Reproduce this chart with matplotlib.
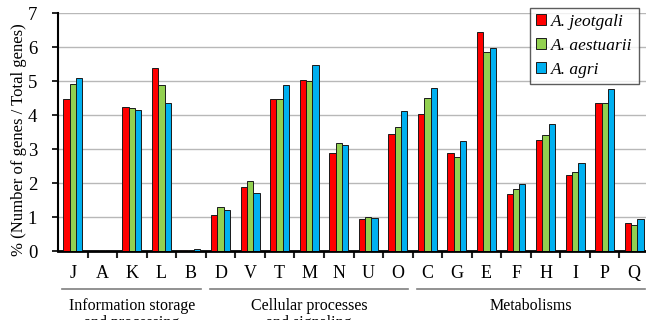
import matplotlib
matplotlib.use("Agg")
import matplotlib.pyplot as plt
import numpy as np
from matplotlib.patches import Patch

categories = ["J", "A", "K", "L", "B", "D", "V", "T", "M", "N", "U", "O",
              "C", "G", "E", "F", "H", "I", "P", "Q"]
jeotgali = [4.46, 0.00, 4.24, 5.38, 0.02, 1.07, 1.88, 4.47, 5.02, 2.88, 0.93, 3.45,
            4.04, 2.88, 6.45, 1.67, 3.26, 2.25, 4.34, 0.81]
aestuarii = [4.92, 0.03, 4.22, 4.89, 0.03, 1.29, 2.05, 4.47, 5.00, 3.17, 1.00, 3.64,
             4.51, 2.76, 5.85, 1.81, 3.42, 2.31, 4.35, 0.76]
agri = [5.09, 0.00, 4.16, 4.36, 0.06, 1.20, 1.70, 4.87, 5.48, 3.12, 0.97, 4.12,
        4.79, 3.24, 5.97, 1.96, 3.74, 2.60, 4.76, 0.95]
series_names = ["A. jeotgali", "A. aestuarii", "A. agri"]
colors = ["#FF0000", "#92D050", "#00B0F0"]
groups = [("Information storage\nand processing", 0, 4),
          ("Cellular processes\nand signaling", 5, 11),
          ("Metabolisms", 12, 19)]

plt.rcParams["font.family"] = ["Liberation Serif", "DejaVu Serif"]

W, H = 646, 320
fig = plt.figure(figsize=(W / 100, H / 100), dpi=100)
x0, x1 = 58, 649
y0, y1 = 251, 13
ax = fig.add_axes([x0 / W, (H - y0) / H, (x1 - x0) / W, (y0 - y1) / H])

x = np.arange(len(categories))
bw = 0.213
for k, (vals, c, name) in enumerate(zip([jeotgali, aestuarii, agri], colors, series_names)):
    ax.bar(x + (k - 1) * bw, vals, bw, color=c, edgecolor="#1a1a1a", linewidth=0.7,
           label=name, zorder=3)

ax.set_xlim(-0.5, len(categories) - 0.5)
ax.set_ylim(0, 7)
ax.set_yticks(range(0, 8))
ax.yaxis.grid(True, color="#b8b8b8", linewidth=1.0, zorder=0)
ax.set_axisbelow(True)
ax.set_xticks(x)
ax.set_xticklabels(categories, fontsize=13)
ax.tick_params(axis="x", which="major", length=0, pad=10)
ax.set_xticks(np.arange(0.5, len(categories) - 0.5, 1), minor=True)
ax.tick_params(axis="x", which="minor", length=5, width=1.5, color="#222222", direction="out")
ax.tick_params(axis="y", labelsize=13.5, length=4, width=1.2, direction="out", pad=11)
for s in ["top", "right"]:
    ax.spines[s].set_visible(False)
ax.spines["left"].set_linewidth(1.5)
ax.spines["bottom"].set_linewidth(2.0)
ax.set_ylabel("% (Number of genes / Total genes)", fontsize=12)
ax.yaxis.set_label_coords((27 - x0) / (x1 - x0), 0.468)

trans = ax.get_xaxis_transform()
line_y = (y0 - 289) / (y0 - y1)
text_y = (y0 - 298) / (y0 - y1)
for label, a, b in groups:
    ax.plot([a - 0.35, b + 0.35], [line_y, line_y], transform=trans, color="#7f7f7f",
            linewidth=1.2, clip_on=False)
    ax.text((a + b) / 2, text_y, label, transform=trans, ha="center", va="top",
            fontsize=11.5, linespacing=1.1)

handles = [Patch(facecolor=c, edgecolor="#1a1a1a", linewidth=0.7) for c in colors]
leg = ax.legend(handles, series_names, loc="upper right",
                bbox_to_anchor=((639 - x0) / (x1 - x0), (y0 - 8) / (y0 - y1)),
                prop={"style": "italic", "size": 12.5}, frameon=True, fancybox=False,
                edgecolor="#333333", handlelength=0.6, handleheight=0.6,
                handletextpad=0.3, borderpad=0.35, labelspacing=0.45, borderaxespad=0)
leg.get_frame().set_linewidth(1.0)

fig.savefig("out.png", dpi=100)
